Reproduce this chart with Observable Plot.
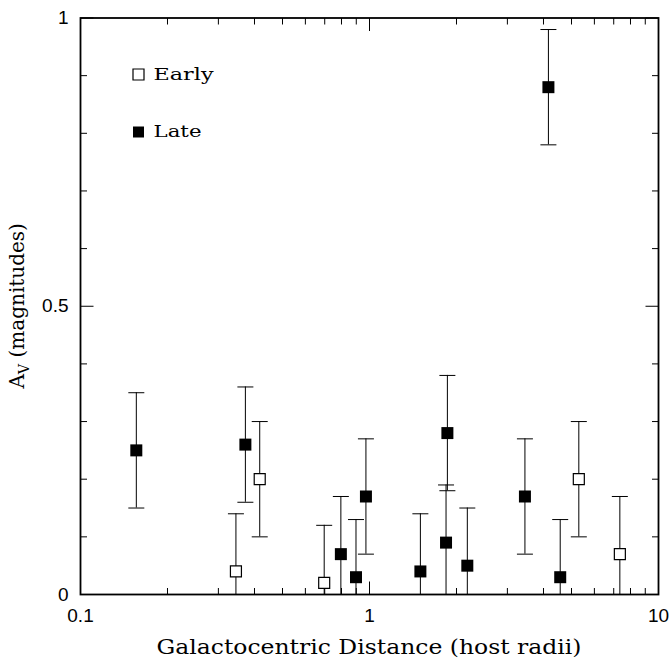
<!DOCTYPE html>
<html><head><meta charset="utf-8">
<script src="https://cdn.jsdelivr.net/npm/d3@7"></script>
<script src="https://cdn.jsdelivr.net/npm/@observablehq/plot@0.6"></script>
<style>body{margin:0;background:#fff;}</style>
</head><body><div id="chart"></div>
<script>
// ---- data ----
const lateX   = [0.156, 0.372, 0.796, 0.898, 0.972, 1.50, 1.86, 1.84, 2.18, 3.45, 4.57, 4.16];
const lateY   = [0.25,  0.26,  0.07,  0.03,  0.17,  0.04, 0.28, 0.09, 0.05, 0.17, 0.03, 0.88];
const lateErr = [0.10,  0.10,  0.10,  0.10,  0.10,  0.10, 0.10, 0.10, 0.10, 0.10, 0.10, 0.10];
const earlyX   = [0.345, 0.417, 0.697, 5.30, 7.35];
const earlyY   = [0.04,  0.20,  0.02,  0.20, 0.07];
const earlyErr = [0.10,  0.10,  0.10,  0.10, 0.10];
const legendLabels = ["Early", "Late"];
const xMajorTicks = [0.1, 1, 10];
const xTickLabels = ["0.1", "1", "10"];
const xMinorTicks = [0.2,0.3,0.4,0.5,0.6,0.7,0.8,0.9,2,3,4,5,6,7,8,9];
const yMajorTicks = [0, 0.5, 1];
const yTickLabels = ["0", "0.5", "1"];
const yMinorTicks = [0.1,0.2,0.3,0.4,0.6,0.7,0.8,0.9];
const xTitle = "Galactocentric Distance (host radii)";

const late = lateX.map((x, i) => ({x, y: lateY[i], e: lateErr[i]}));
const early = earlyX.map((x, i) => ({x, y: earlyY[i], e: earlyErr[i]}));

// ---- symbols ----
const square = s => ({draw(ctx) { ctx.moveTo(-s/2,-s/2); ctx.lineTo(s/2,-s/2); ctx.lineTo(s/2,s/2); ctx.lineTo(-s/2,s/2); ctx.closePath(); }});
const hline = (a, b) => ({draw(ctx) { ctx.moveTo(a,0); ctx.lineTo(b,0); }});
const vline = (a, b) => ({draw(ctx) { ctx.moveTo(0,a); ctx.lineTo(0,b); }});

const W = 670, H = 665, mL = 80, mR = 12, mT = 17.5, mB = 71;
const MAJ = 13, MIN = 6.5;
const serif = "'DejaVu Serif', 'Liberation Serif', serif";
const sans = "'Liberation Sans', Arial, sans-serif";

const tickOpts = {stroke: "black", strokeWidth: 1, fill: "none"};

const plot = Plot.plot({
  width: W, height: H,
  marginLeft: mL, marginRight: mR, marginTop: mT, marginBottom: mB,
  x: {type: "log", domain: [0.1, 10]},
  y: {domain: [0, 1]},
  style: {background: "white", color: "black", overflow: "visible"},
  marks: [
    // inward ticks
    Plot.dot(xMajorTicks, {x: d => d, frameAnchor: "bottom", symbol: vline(0, -MAJ), ...tickOpts}),
    Plot.dot(xMinorTicks, {x: d => d, frameAnchor: "bottom", symbol: vline(0, -MIN), ...tickOpts}),
    Plot.dot(xMajorTicks, {x: d => d, frameAnchor: "top", symbol: vline(0, MAJ), ...tickOpts}),
    Plot.dot(xMinorTicks, {x: d => d, frameAnchor: "top", symbol: vline(0, MIN), ...tickOpts}),
    Plot.dot(yMajorTicks, {y: d => d, frameAnchor: "left", symbol: hline(0, MAJ), ...tickOpts}),
    Plot.dot(yMinorTicks, {y: d => d, frameAnchor: "left", symbol: hline(0, MIN), ...tickOpts}),
    Plot.dot(yMajorTicks, {y: d => d, frameAnchor: "right", symbol: hline(0, -MAJ), ...tickOpts}),
    Plot.dot(yMinorTicks, {y: d => d, frameAnchor: "right", symbol: hline(0, -MIN), ...tickOpts}),
    // error bars
    ...[late, early].flatMap(data => [
      Plot.ruleX(data, {x: "x", y1: d => d.y - d.e, y2: d => d.y + d.e, stroke: "black", strokeWidth: 1, clip: true}),
      Plot.dot(data, {x: "x", y: d => d.y + d.e, symbol: hline(-8, 8), ...tickOpts, clip: true}),
      Plot.dot(data, {x: "x", y: d => d.y - d.e, symbol: hline(-8, 8), ...tickOpts, clip: true})
    ]),
    // points
    Plot.dot(late, {x: "x", y: "y", symbol: square(12), fill: "black", stroke: "none"}),
    Plot.dot(early, {x: "x", y: "y", symbol: square(11), fill: "white", stroke: "black", strokeWidth: 1.2}),
    Plot.frame({stroke: "black", strokeWidth: 1.8}),
    // axes labels
    Plot.axisX(xMajorTicks, {tickSize: 0, tickPadding: 14, tickFormat: d => xTickLabels[xMajorTicks.indexOf(d)], fontSize: 19, fontFamily: sans, label: null}),
    Plot.axisY(yMajorTicks, {tickSize: 0, tickPadding: 12, tickFormat: d => yTickLabels[yMajorTicks.indexOf(d)], fontSize: 19, fontFamily: sans, label: null}),
    // legend
    Plot.dot([legendLabels[0]], {frameAnchor: "top-left", dx: 58, dy: 56.5, symbol: square(11), fill: "white", stroke: "black", strokeWidth: 1.2}),
    Plot.dot([legendLabels[1]], {frameAnchor: "top-left", dx: 58, dy: 114, symbol: square(11), fill: "black", stroke: "none"}),
    Plot.text([legendLabels[0]], {text: d => d, frameAnchor: "top-left", lineAnchor: "middle", dx: 73, dy: 56.5, textAnchor: "start", fontSize: 17, fontFamily: serif, fill: "black", className: "legend-text"}),
    Plot.text([legendLabels[1]], {text: d => d, frameAnchor: "top-left", lineAnchor: "middle", dx: 73, dy: 113.5, textAnchor: "start", fontSize: 17, fontFamily: serif, fill: "black", className: "legend-text"})
  ]
});

const svg = d3.select(plot);
// stretch legend words to the monospace width of the original
svg.selectAll(".legend-text text").each(function() {
  const t = d3.select(this);
  t.attr("textLength", this.textContent.length * 12).attr("lengthAdjust", "spacingAndGlyphs");
});

const cx = mL + (W - mL - mR) / 2;
svg.append("text")
  .attr("x", cx).attr("y", 654)
  .attr("text-anchor", "middle")
  .attr("font-family", serif).attr("font-size", 20)
  .attr("textLength", 425).attr("lengthAdjust", "spacingAndGlyphs")
  .attr("fill", "black")
  .text(xTitle);

const cy = mT + (H - mT - mB) / 2;
const yt = svg.append("text")
  .attr("transform", `translate(24,${cy}) rotate(-90)`)
  .attr("text-anchor", "middle")
  .attr("font-family", serif).attr("font-size", 20)
  .attr("fill", "black");
yt.append("tspan").text("A");
yt.append("tspan").attr("font-size", 14).attr("dy", 5).text("V");
yt.append("tspan").attr("dy", -5).text(" (magnitudes)");

document.getElementById("chart").appendChild(plot);
</script>
</body></html>
